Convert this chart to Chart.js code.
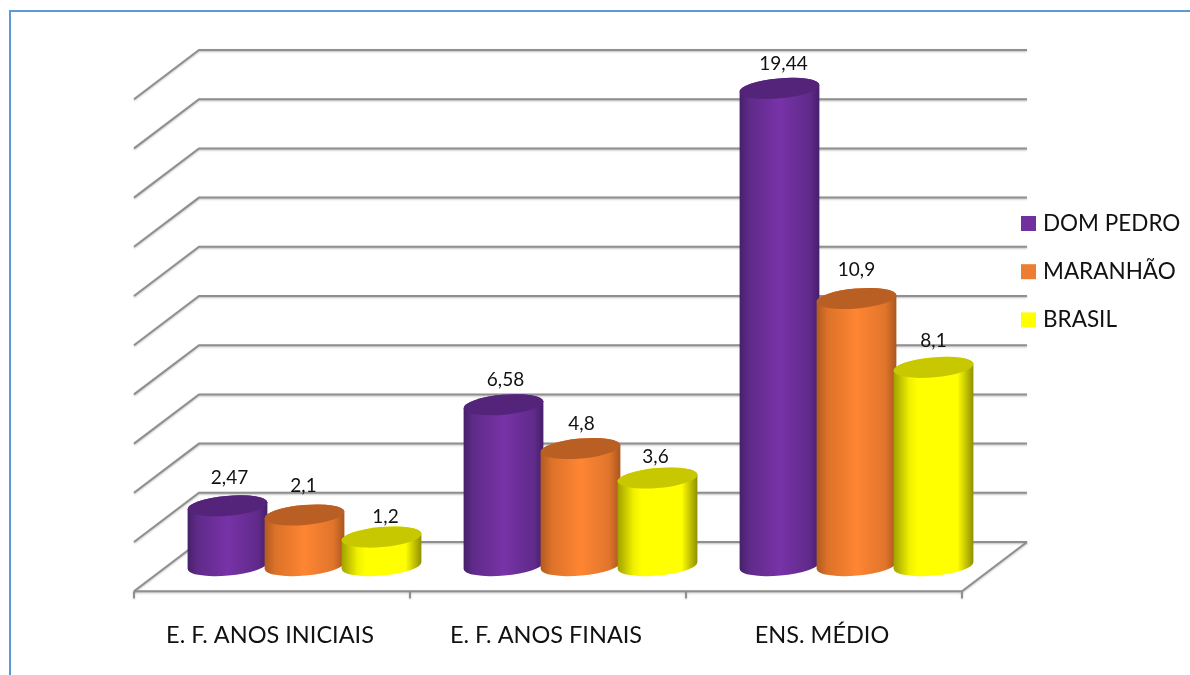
<!DOCTYPE html>
<html lang="pt">
<head>
<meta charset="utf-8">
<title>Gráfico</title>
<script src="https://cdn.jsdelivr.net/npm/chart.js@4"></script>
<style>
  html, body { margin: 0; background: #fff; }
  #frame {
    position: absolute; left: 9px; top: 10px; right: 0; bottom: 0;
    border-left: 2px solid #5b9bd5; border-top: 2px solid #5b9bd5;
  }
  #grafico { position: absolute; left: 0; top: 0; }
</style>
</head>
<body>
<div id="frame"></div>
<canvas id="grafico" width="1190" height="675"></canvas>
<script>
const categorias = ["E. F. ANOS INICIAIS", "E. F. ANOS FINAIS", "ENS. MÉDIO"];
const domPedro = [2.47, 6.58, 19.44];
const maranhao = [2.1, 4.8, 10.9];
const brasil = [1.2, 3.6, 8.1];
const nomesSeries = ["DOM PEDRO", "MARANHÃO", "BRASIL"];

const FONTE = "Lato, Carlito, sans-serif";
const DX = 32.5, DY = 24.6; // half of the floor depth

// colours per series: legend swatch, side gradient, cylinder top
const cores = [
  {
    legenda: "#7030a0",
    topo: "#54247a",
    lado: [[0, "#45206a"], [0.12, "#5f2a88"], [0.5, "#7733a8"], [0.88, "#602a8a"], [1, "#451f6a"]],
  },
  {
    legenda: "#ed7d31",
    topo: "#b95f24",
    lado: [[0, "#b05a20"], [0.14, "#dc7229"], [0.5, "#ff8533"], [0.86, "#e0752b"], [1, "#a9561e"]],
  },
  {
    legenda: "#ffff00",
    topo: "#c8c800",
    lado: [[0, "#a0a000"], [0.2, "#f0f000"], [0.3, "#ffff00"], [0.8, "#ffff00"], [1, "#8f8f00"]],
  },
];

// small shifts of the value labels, series by series
const ajusteRotulos = [
  [[2, -3], [2, 0], [4, 0]],
  [[-1, -4], [1, 0], [0, -4]],
  [[4, 5], [-2, 4], [0, -1]],
];

function formatBR(v) {
  return String(v).replace(".", ",");
}

// back wall, side wall and floor of the 3D box
const caixa3d = {
  id: "caixa3d",
  beforeDatasetsDraw(chart) {
    const { ctx, chartArea: a, scales: { y } } = chart;
    ctx.save();
    ctx.strokeStyle = "#8f8f8f";
    ctx.lineWidth = 2;
    ctx.shadowColor = "rgba(0,0,0,0.25)";
    ctx.shadowBlur = 2;
    ctx.shadowOffsetY = 1;
    y.ticks.forEach((t) => {
      const p = y.getPixelForValue(t.value);
      ctx.beginPath();
      ctx.moveTo(a.left - DX, p + DY);
      ctx.lineTo(a.left + DX, p - DY);
      ctx.lineTo(a.right + DX, p - DY);
      ctx.stroke();
    });
    const base = y.getPixelForValue(0);
    ctx.beginPath();
    ctx.moveTo(a.left - DX, base + DY);
    ctx.lineTo(a.right - DX, base + DY);
    ctx.lineTo(a.right + DX, base - DY);
    ctx.stroke();
    // tick marks between the categories, on the front edge
    const passo = (a.right - a.left) / categorias.length;
    for (let i = 0; i <= categorias.length; i++) {
      const px = a.left - DX + passo * i;
      ctx.beginPath();
      ctx.moveTo(px, base + DY);
      ctx.lineTo(px, base + DY + 7);
      ctx.stroke();
    }
    ctx.restore();
  },
};

// each bar element is drawn as a tilted cylinder
const cilindros = {
  id: "cilindros",
  afterDatasetsDraw(chart) {
    const { ctx } = chart;
    const tilt = (-5 * Math.PI) / 180;
    chart.data.datasets.forEach((ds, i) => {
      const cor = cores[i];
      chart.getDatasetMeta(i).data.forEach((bar, j) => {
        const rx = bar.width / 2;
        const ry = 10;
        const left = bar.x - rx;
        const right = bar.x + rx;
        const baseY = bar.base - 1;

        const g = ctx.createLinearGradient(left, 0, right, 0);
        cor.lado.forEach(([pos, c]) => g.addColorStop(pos, c));

        ctx.save();
        ctx.fillStyle = g;
        ctx.beginPath();
        ctx.ellipse(bar.x, bar.y, rx, ry, tilt, Math.PI, 0, false);
        ctx.ellipse(bar.x, baseY, rx, ry, tilt, 0, Math.PI, false);
        ctx.closePath();
        ctx.fill();

        ctx.fillStyle = cor.topo;
        ctx.beginPath();
        ctx.ellipse(bar.x, bar.y, rx, ry, tilt, 0, Math.PI * 2);
        ctx.fill();
        ctx.restore();
      });
    });
    // value labels go last so no cylinder covers them
    chart.data.datasets.forEach((ds, i) => {
      chart.getDatasetMeta(i).data.forEach((bar, j) => {
        const [ax, ay] = ajusteRotulos[i][j];
        ctx.save();
        ctx.fillStyle = "#111";
        ctx.font = "19px " + FONTE;
        ctx.textAlign = "center";
        ctx.textBaseline = "middle";
        ctx.fillText(formatBR(ds.data[j]), bar.x + ax, bar.y - 25 + ay);
        ctx.restore();
      });
    });
  },
};

const legendaLateral = {
  id: "legendaLateral",
  afterDraw(chart) {
    const { ctx } = chart;
    ctx.save();
    ctx.font = "22.5px " + FONTE;
    ctx.textBaseline = "middle";
    nomesSeries.forEach((nome, i) => {
      const yc = 223.5 + i * 48.2;
      ctx.fillStyle = cores[i].legenda;
      ctx.fillRect(1021, yc - 7.5, 15, 15);
      ctx.fillStyle = "#111";
      ctx.fillText(nome, 1043, yc);
    });
    ctx.restore();
  },
};

new Chart(document.getElementById("grafico"), {
  type: "bar",
  data: {
    labels: categorias,
    datasets: [
      { label: nomesSeries[0], data: domPedro },
      { label: nomesSeries[1], data: maranhao },
      { label: nomesSeries[2], data: brasil },
    ].map((ds) => ({
      ...ds,
      backgroundColor: "rgba(0,0,0,0)",
      categoryPercentage: 0.837,
      barPercentage: 1.04,
    })),
  },
  options: {
    responsive: false,
    animation: false,
    layout: { padding: { left: 166.5, right: 195.5, top: 74.6, bottom: 0 } },
    plugins: { legend: { display: false }, tooltip: { enabled: false } },
    scales: {
      x: {
        grid: { display: false },
        border: { display: false },
        afterFit(scale) {
          scale.height = 108.4;
        },
        ticks: {
          autoSkip: false,
          maxRotation: 0,
          labelOffset: -DX - 2,
          padding: 47,
          color: "#111",
          font: { family: FONTE, size: 23.5 },
        },
      },
      y: {
        display: false,
        min: 0,
        max: 20,
        ticks: { stepSize: 2 },
      },
    },
  },
  plugins: [caixa3d, cilindros, legendaLateral],
});
</script>
</body>
</html>
